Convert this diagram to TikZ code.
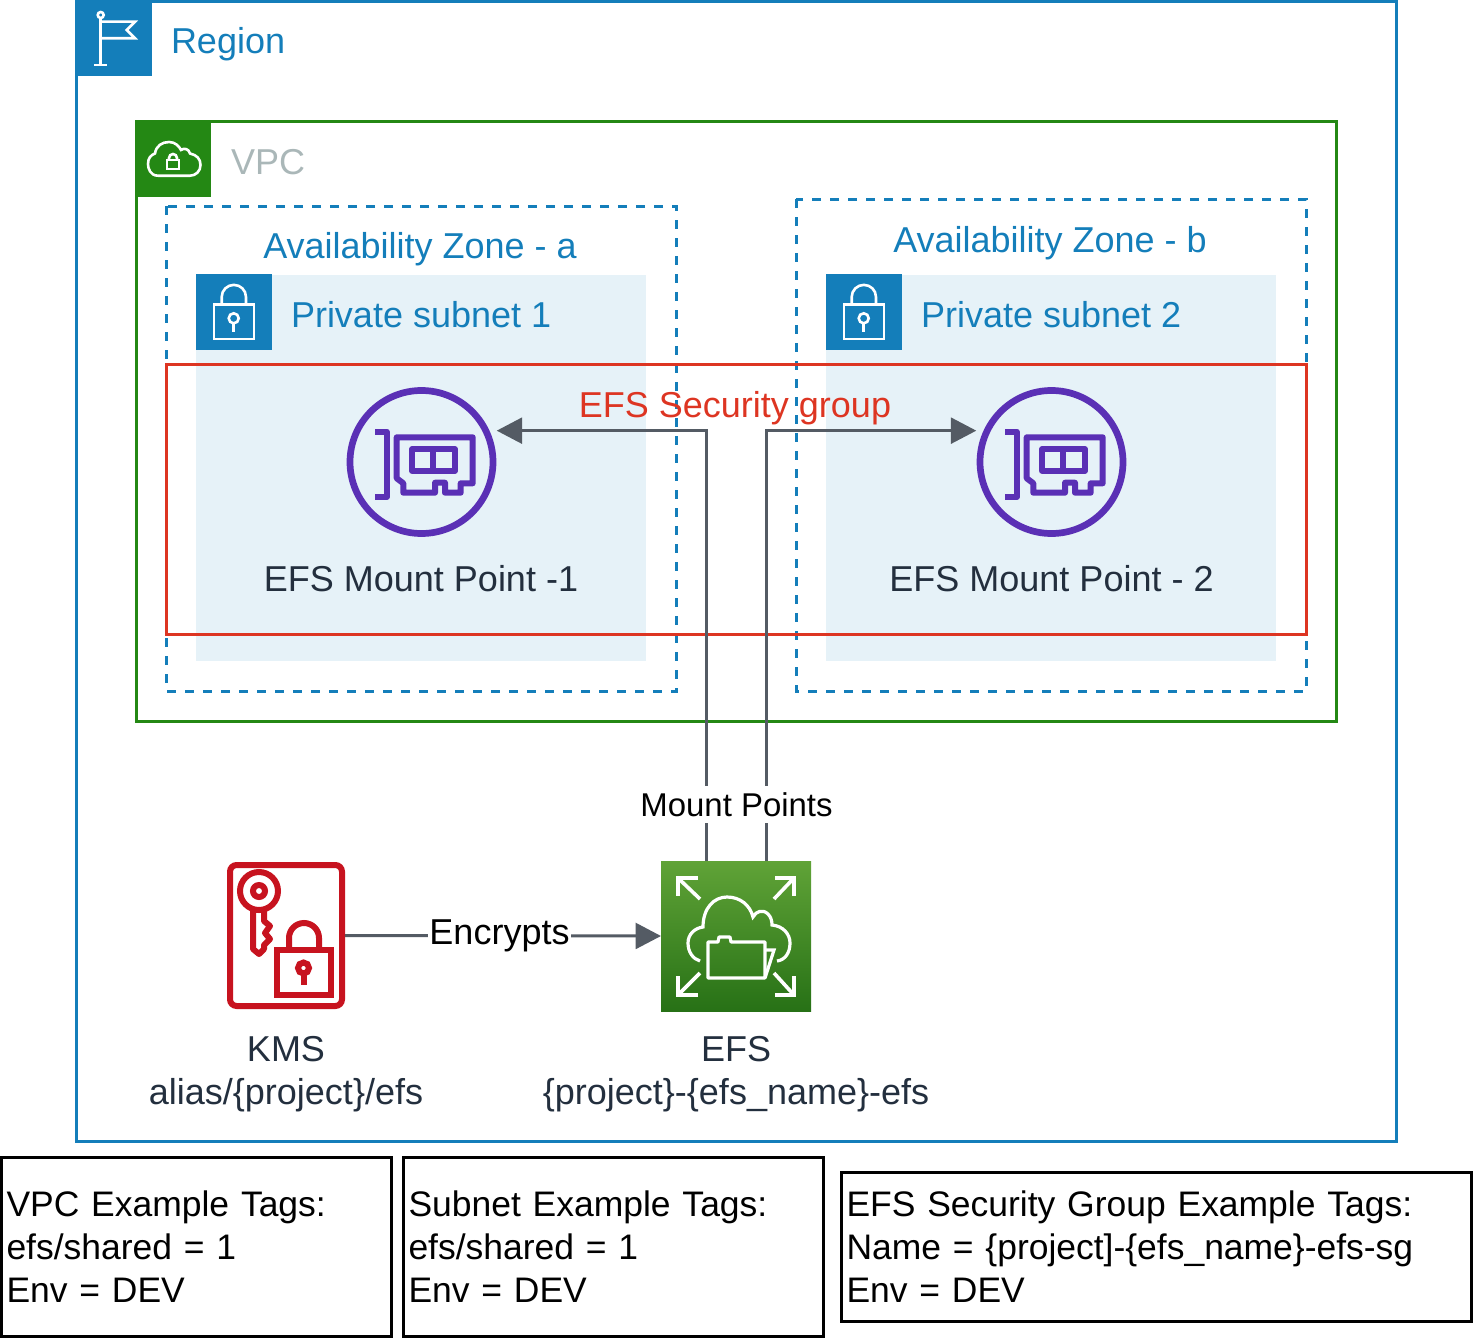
\documentclass[tikz,border=0pt]{standalone}
\usepackage{fontspec}
\setmainfont{Liberation Sans}
\usetikzlibrary{arrows.meta,positioning}
\definecolor{awsblue}{HTML}{147EBA}
\definecolor{awsgreen}{HTML}{248814}
\definecolor{subnetbg}{HTML}{E6F2F8}
\definecolor{sgred}{HTML}{DD3522}
\definecolor{vpcgray}{HTML}{AAB7B8}
\definecolor{ink}{HTML}{232F3E}
\definecolor{linegray}{HTML}{545B64}
\definecolor{mppurple}{HTML}{5A30B5}
\definecolor{kmsred}{HTML}{C7131F}
\definecolor{efstop}{HTML}{60A337}
\definecolor{efsbot}{HTML}{277116}
\def\U{0.75pt}
\tikzset{
  big/.style={font=\fontsize{27pt}{31.7pt}\selectfont,inner sep=0pt,outer sep=0pt},
  mid/.style={font=\fontsize{24.7pt}{32.6pt}\selectfont,inner sep=0pt,outer sep=0pt},
  header/.style={rectangle,minimum size=75.5*\U,inner sep=0pt,outer sep=0pt},
  wire/.style={draw=white,line width=2.6*\U,line join=miter},
  conn/.style={draw=linegray,line width=3*\U,-{Triangle[length=19pt,width=19.3pt]}},
  azbox/.style={draw=awsblue,line width=3*\U,dash pattern=on 9*\U off 9*\U},
  tagbox/.style={draw=black,line width=3*\U,rectangle,outer sep=0pt,inner xsep=5*\U,inner ysep=0pt,
     align=left,font=\fontsize{26.6pt}{32.5pt}\selectfont,anchor=north west},
  mpring/.style={circle,draw=mppurple,line width=6.7*\U,minimum size=143*\U,inner sep=0pt,outer sep=3.7*\U},
}
\newcommand{\lockicon}{%
  \draw[wire] (221.7,304.3) -- (221.7,297) arc[start angle=180,end angle=360,radius=12.15] -- (246,304.3);
  \draw[wire] (214,304.3) rectangle (254,339);
  \draw[wire] (233.7,318.3) circle[radius=5];
  \draw[wire] (233.7,323.3) -- (233.7,332);
}
\newcommand{\cardicon}{%
  \draw[mppurple,line width=6*\U,line join=round] (375,431.7) -- (386.7,431.7) -- (386.7,497) -- (375,497);
  \draw[mppurple,line width=6*\U,line join=round] (396.7,437.3) -- (472.7,437.3) -- (472.7,483.3) -- (460.7,483.3) -- (460.7,492.7) -- (445,492.7) -- (445,482.7) -- (435,482.7) -- (435,492.7) -- (403.3,492.7) -- (403.3,483.3) -- (396.7,478.3) -- cycle;
  \draw[mppurple,line width=6*\U,line join=round] (412.3,449.3) rectangle (455,470.7);
  \draw[mppurple,line width=6*\U] (433.3,449.3) -- (433.3,470.7);
}
\begin{document}
\begin{tikzpicture}[x=0.75pt,y=-0.75pt]
\useasboundingbox (0,0) rectangle (1473,1338);
% containers
\draw[awsblue,line width=3*\U] (76.5,1.5) rectangle (1396,1141);
\draw[awsgreen,line width=3*\U] (136,121.5) rectangle (1336.5,721);
\fill[subnetbg] (196,275) rectangle (646,661);
\fill[subnetbg] (826,275) rectangle (1276,661);
\draw[azbox] (166,206) rectangle (676.5,691);
\draw[azbox] (796,199) rectangle (1306.5,691);
\draw[sgred,line width=3*\U] (166,364.5) rectangle (1306,634);
% region header
\node[header,fill=awsblue] (reghead) at (114,38.5) {};
\draw[wire] (100.7,18) -- (100.7,65);
\draw[wire] (94,65) -- (107,65);
\draw[wire] (100.7,15) circle[radius=3];
\draw[wire] (100.7,21.7) -- (135,21.7) -- (126.7,30) -- (135,38.3) -- (100.7,38.3);
\node[big,awsblue,anchor=base west] (reglabel) at (171,54) {Region};
% VPC header
\node[header,fill=awsgreen] (vpchead) at (173.5,159) {};
\draw[wire] (158,175.7) .. controls (150,175.7) and (148,168) .. (148,164)
  .. controls (148,158) and (151,155) .. (155,153.5)
  .. controls (156,146) and (162,142) .. (169,142)
  .. controls (175,142) and (179,146) .. (181,150)
  .. controls (184,147.5) and (189,149) .. (190,153.5)
  .. controls (197,155) and (200.5,159) .. (200.5,165)
  .. controls (200.5,171) and (196,175.7) .. (190,175.7) -- cycle;
\draw[wire] (167,160) rectangle (179,169);
\draw[wire] (169,160) -- (169,158) arc[start angle=180,end angle=360,radius=4] -- (177,160);
\node[big,vpcgray,anchor=base west] (vpclabel) at (231,174) {VPC};
% AZ labels
\node[big,awsblue,anchor=base] (aza) at (420,258) {Availability Zone - a};
\node[big,awsblue,anchor=base] (azb) at (1050,252) {Availability Zone - b};
% subnet headers
\node[header,fill=awsblue] (sub1head) at (234,312) {};
\lockicon
\node[header,fill=awsblue] (sub2head) at (864,312) {};
\begin{scope}[shift={(630,0)}]\lockicon\end{scope}
\node[big,awsblue,anchor=base west] (sub1label) at (291,327) {Private subnet 1};
\node[big,awsblue,anchor=base west] (sub2label) at (921,327) {Private subnet 2};
% mount points
\node[mpring] (mp1) at (421.5,462) {};
\cardicon
\node[mpring] (mp2) at (1051.5,462) {};
\begin{scope}[shift={(630,0)}]\cardicon\end{scope}
\node[big,ink,anchor=base] (mp1label) at (421,591) {EFS Mount Point -1};
\node[big,ink,anchor=base] (mp2label) at (1051.5,591) {EFS Mount Point - 2};
\node[big,sgred,anchor=base] (sglabel) at (735,417) {EFS Security group};
% EFS
\node[rectangle,top color=efstop,bottom color=efsbot,minimum size=150*\U,inner sep=0pt,outer sep=0pt] (efs) at (736,936) {};
\begin{scope}[every path/.append style={draw=white,line width=3.6*\U}]
\draw (698,878) -- (678,878) -- (678,896);
\draw (678,878) -- (700,899);
\draw (775,878) -- (794,878) -- (794,896);
\draw (794,878) -- (774,899);
\draw (698,995) -- (678,995) -- (678,976);
\draw (678,995) -- (700,973);
\draw (775,995) -- (794,995) -- (794,976);
\draw (794,995) -- (774,973);
\end{scope}
\begin{scope}[every path/.append style={draw=white,line width=3.2*\U}]
\draw (700,961) .. controls (693,959) and (688,952) .. (688,943)
  .. controls (688,934) and (695,928) .. (703,927)
  .. controls (703,908) and (714,897) .. (727,897)
  .. controls (740,897) and (750,905) .. (753,917)
  .. controls (756,911) and (763,909) .. (768,914)
  .. controls (771,917) and (772,921) .. (772,925)
  .. controls (783,926) and (790,934) .. (790,943)
  .. controls (790,953) and (785,960) .. (777,961);
\draw[line join=round] (708,978) -- (708,942) -- (718,942) -- (719,937) -- (730,937) -- (731,942) -- (765,942) -- (765,978) -- cycle;
\draw (765,950) -- (774,950) -- (765,978);
\end{scope}
% KMS
\node[rectangle,draw=kmsred,line width=6*\U,rounded corners=5pt,minimum width=112*\U,minimum height=141*\U,inner sep=0pt,outer sep=3*\U] (kms) at (286,935.5) {};
\begin{scope}[kmsred,line width=6*\U]
\draw (259,891) circle[radius=19];
\draw (259,891) circle[radius=6];
\draw[line join=round] (253,908) -- (253,949) -- (259,954) -- (264,949) -- (264,945) -- (270,939) -- (265,933) -- (270,926) -- (264,921) -- (264,908);
\draw (277,950) rectangle (331,995);
\draw (289,950) -- (289,938) arc[start angle=180,end angle=360,radius=15] -- (319,950);
\draw (303.5,968) circle[radius=5.5];
\draw (303.5,972) -- (303.5,985);
\end{scope}
% labels
\node[big,ink,align=center,anchor=base] (kmslabel) at (286,1104) {KMS\\alias/\{project\}/efs};
\node[big,ink,align=center,anchor=base] (efslabel) at (736,1104) {EFS\\\{project\}-\{efs\_name\}-efs};
% connectors
\draw[conn] ([xshift=-29.5*\U]efs.north) |- ([yshift=23.5pt]mp1.east);
\draw[conn] ([xshift=30*\U]efs.north) |- ([yshift=23.5pt]mp2.west);
\node[fill=white,text=black,mid,inner ysep=5pt,anchor=center] (mplabel) at (736.5,804.4) {Mount Points};
\draw[conn] (kms.east) -- (efs.west);
\node[big,fill=white,text=black,inner xsep=1pt,anchor=center] (enc) at (499.5,935.5) {Encrypts};
% tag boxes
\node[tagbox,minimum width=390*\U,minimum height=179*\U,text width=380*\U] (tag1) at (1.5,1157) {VPC Example Tags:\\efs/shared = 1\\Env = DEV\par\vspace{1.6pt}};
\node[tagbox,minimum width=420*\U,minimum height=179*\U,text width=410*\U] (tag2) at (403.5,1157) {Subnet Example Tags:\\efs/shared = 1\\Env = DEV\par\vspace{1.6pt}};
\node[tagbox,minimum width=630*\U,minimum height=149*\U,text width=620*\U] (tag3) at (841.5,1172) {EFS Security Group Example Tags:\\Name = \{project]-\{efs\_name\}-efs-sg\\Env = DEV\par\vspace{1.6pt}};
\end{tikzpicture}
\end{document}
